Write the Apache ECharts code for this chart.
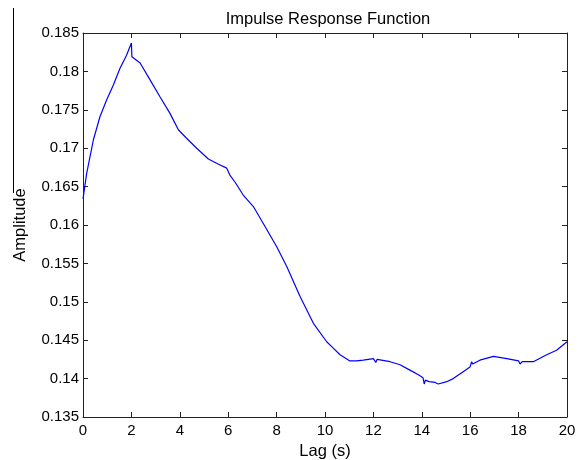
<!DOCTYPE html>
<html>
<head>
<meta charset="utf-8">
<script src="https://cdn.jsdelivr.net/npm/echarts@6/dist/echarts.min.js"></script>
<style>
  html, body { margin: 0; padding: 0; background: #fff; }
  #chart { width: 582px; height: 460px; }
</style>
</head>
<body>
<div id="chart"></div>
<script>
// lag (s) and amplitude
const lagValues = [
  0, 0.15, 0.43, 0.7, 0.98, 1.25, 1.53, 1.8, 2.0, 2.02, 2.36, 2.77, 3.18, 3.6, 3.94,
  4.28, 4.7, 5.18, 5.6, 5.94, 6.0, 6.07, 6.3, 6.62, 7.04, 7.45, 8.0, 8.42, 8.97, 9.52,
  10.07, 10.3, 10.62, 11.03, 11.3, 11.58, 12.0, 12.05, 12.1, 12.15, 12.69, 13.1, 13.51,
  13.86, 14.05, 14.1, 14.15, 14.3, 14.55, 14.68, 15.03, 15.3, 15.71, 15.99, 16.06, 16.1,
  16.4, 16.96, 17.51, 18.0, 18.06, 18.15, 18.61, 19.16, 19.57, 20
]
const amplitudeValues = [
  0.1634, 0.1667, 0.1711, 0.1741, 0.1763, 0.1782, 0.1804, 0.1821, 0.1837, 0.1819, 0.1811,
  0.1789, 0.1767, 0.1745, 0.1724, 0.1713, 0.1700, 0.1686, 0.1679, 0.1674, 0.1673, 0.1665,
  0.1655, 0.1639, 0.1624, 0.1602, 0.1572, 0.1546, 0.1507, 0.1472, 0.1448, 0.1441, 0.1431,
  0.1423, 0.1423, 0.1424, 0.1426, 0.1427, 0.1421, 0.1425, 0.1422, 0.1418, 0.1411, 0.1405,
  0.1401, 0.1393, 0.1398, 0.1396, 0.1395, 0.1393, 0.1396, 0.1400, 0.1409, 0.1415, 0.1422,
  0.1419, 0.1424, 0.1429, 0.1426, 0.1423, 0.1419, 0.1422, 0.1422, 0.1431, 0.1437, 0.1448
]

const font = 'Liberation Sans, Arial, sans-serif'
const axisColor = '#222'

const tickStyle = { inside: true, length: 5, lineStyle: { color: axisColor } }
const lineStyle = { show: true, onZero: false, lineStyle: { color: axisColor } }

const chart = echarts.init(document.getElementById('chart'))
chart.setOption({
  animation: false,
  title: {
    text: 'Impulse Response Function',
    left: 323,
    top: 6,
    textAlign: 'center',
    textStyle: { fontFamily: font, fontSize: 16.5, fontWeight: 'normal', color: '#000' }
  },
  grid: { left: 83, top: 33, right: 15, bottom: 43, outerBoundsMode: 'none' },
  xAxis: [
    {
      type: 'value', min: 0, max: 20, interval: 2,
      name: 'Lag (s)', nameLocation: 'middle', nameGap: 23,
      nameTextStyle: { fontFamily: font, fontSize: 16.5, color: '#000' },
      axisLine: lineStyle,
      axisTick: tickStyle,
      axisLabel: { fontFamily: font, fontSize: 15, color: '#000', margin: 6 },
      splitLine: { show: false }
    },
    {
      type: 'value', min: 0, max: 20, interval: 2, position: 'top',
      axisLine: lineStyle,
      axisTick: tickStyle,
      axisLabel: { show: false },
      splitLine: { show: false }
    }
  ],
  yAxis: [
    {
      type: 'value', min: 0.135, max: 0.185, interval: 0.005,
      name: 'Amplitude', nameLocation: 'middle', nameGap: 54,
      nameTextStyle: { fontFamily: font, fontSize: 16.5, color: '#000' },
      axisLine: lineStyle,
      axisTick: tickStyle,
      axisLabel: {
        fontFamily: font, fontSize: 15, color: '#000', margin: 4,
        formatter: v => String(parseFloat(v.toFixed(3)))
      },
      splitLine: { show: false }
    },
    {
      type: 'value', min: 0.135, max: 0.185, interval: 0.005, position: 'right',
      axisLine: lineStyle,
      axisTick: tickStyle,
      axisLabel: { show: false },
      splitLine: { show: false }
    }
  ],
  graphic: [
    {
      type: 'line',
      shape: { x1: 13.5, y1: 8, x2: 13.5, y2: 193 },
      style: { stroke: '#000', lineWidth: 1 }
    }
  ],
  series: [
    {
      type: 'line',
      data: lagValues.map((t, i) => [t, amplitudeValues[i]]),
      showSymbol: false,
      lineStyle: { color: '#0000ff', width: 1.2 },
      smooth: false
    }
  ]
})
</script>
</body>
</html>
